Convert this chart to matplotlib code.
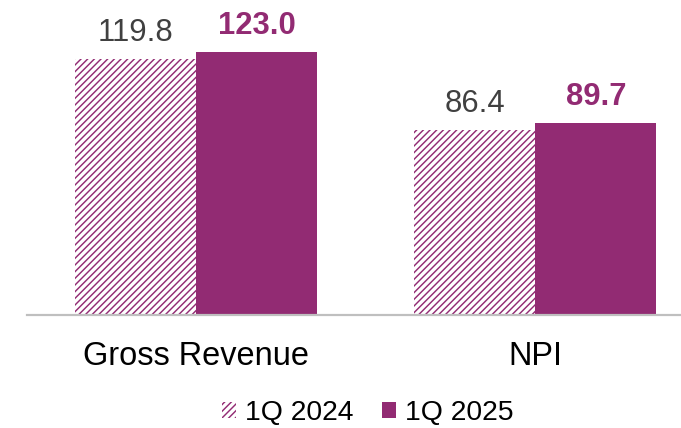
import matplotlib.pyplot as plt
from matplotlib.patches import Patch
import numpy as np

# Data
categories = ['Gross Revenue', 'NPI']
q1_2024 = [119.8, 86.4]
q1_2025 = [123.0, 89.7]
series_labels = ['1Q 2024', '1Q 2025']

PURPLE = '#922B73'
GREY_TEXT = '#404040'
DPI = 160
W, H = 681, 428
HATCH = '/' * 8


def pt(px):
    """Pixels to points at the save dpi."""
    return px * 72 / DPI


plt.rcParams['font.family'] = ['Liberation Sans', 'DejaVu Sans']
plt.rcParams['hatch.linewidth'] = 0.65

fig = plt.figure(figsize=(W / DPI, H / DPI), dpi=DPI)
# axes: x from 27px to right edge, baseline at 315px from top, top at figure top
ax = fig.add_axes([27 / W, (H - 315) / H, (W - 27) / W, 315 / H])

x = np.arange(len(categories))
width = 0.357

ax.bar(x - width / 2, q1_2024, width, facecolor='white', edgecolor=PURPLE,
       hatch=HATCH, linewidth=0)
ax.bar(x + width / 2, q1_2025, width, color=PURPLE, linewidth=0)

ax.set_xlim(-0.5, 1.43)
ax.set_ylim(0, 147.3)

# Value labels
for i, (a, b) in enumerate(zip(q1_2024, q1_2025)):
    ax.annotate(f'{a:.1f}', (x[i] - width / 2, a), xytext=(0, pt(18)),
                textcoords='offset points', ha='center', va='baseline',
                fontsize=pt(31), color=GREY_TEXT)
    ax.annotate(f'{b:.1f}', (x[i] + width / 2, b), xytext=(0, pt(18)),
                textcoords='offset points', ha='center', va='baseline',
                fontsize=pt(31), color=PURPLE, fontweight='bold')

# Category labels
for i, cat in enumerate(categories):
    ax.annotate(cat, (x[i], 0), xycoords=('data', 'axes fraction'),
                xytext=(0, -pt(50)), textcoords='offset points',
                ha='center', va='baseline', fontsize=pt(32.5), color='black',
                annotation_clip=False)

# Axes styling
for side in ['top', 'right', 'left']:
    ax.spines[side].set_visible(False)
ax.spines['bottom'].set_color('#BFBFBF')
ax.spines['bottom'].set_linewidth(pt(2.2))
ax.set_xticks([])
ax.set_yticks([])

# Legend
handles = [
    Patch(facecolor='white', edgecolor=PURPLE, hatch=HATCH, linewidth=0,
          label=series_labels[0]),
    Patch(facecolor=PURPLE, linewidth=0, label=series_labels[1]),
]
fig.legend(handles=handles, loc='center', bbox_to_anchor=(368 / W, (H - 413) / H),
           ncol=2, frameon=False, fontsize=pt(28.4), handlelength=0.5,
           handleheight=0.5, handletextpad=0.32, columnspacing=1.0,
           borderpad=0, borderaxespad=0)

plt.savefig('out.png', dpi=DPI)
